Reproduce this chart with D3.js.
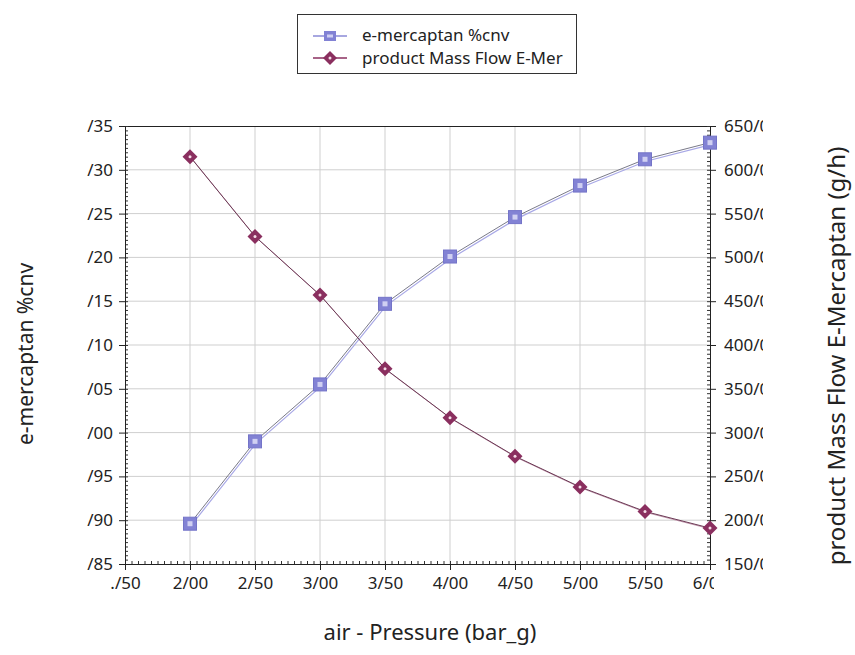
<!DOCTYPE html>
<html>
<head>
<meta charset="utf-8">
<script src="https://cdn.jsdelivr.net/npm/d3@7"></script>
<style>
  body { margin: 0; background: #fff; }
  text { font-family: "Noto Sans", "DejaVu Sans", sans-serif; fill: #222; }
</style>
</head>
<body>
<div id="chart"></div>
<script>
// air pressure (bar_g)
var pressure = [2.0, 2.5, 3.0, 3.5, 4.0, 4.5, 5.0, 5.5, 6.0];
// e-mercaptan %cnv (left axis)
var conversion = [98.896, 98.990, 99.055, 99.147, 99.201, 99.246, 99.282, 99.312, 99.331];
// product mass flow E-Mercaptan g/h (right axis)
var massFlow = [615, 524, 457, 373, 317, 273, 238, 210, 191];

var xTicks = [1.5, 2.0, 2.5, 3.0, 3.5, 4.0, 4.5, 5.0, 5.5, 6.0];
var xTickLabels = ["./50", "2/00", "2/50", "3/00", "3/50", "4/00", "4/50", "5/00", "5/50", "6/00"];
var leftTicks = [98.85, 98.90, 98.95, 99.00, 99.05, 99.10, 99.15, 99.20, 99.25, 99.30, 99.35];
var leftTickLabels = ["/85", "/90", "/95", "/00", "/05", "/10", "/15", "/20", "/25", "/30", "/35"];
var rightTicks = [150, 200, 250, 300, 350, 400, 450, 500, 550, 600, 650];
var rightTickLabels = ["150/0", "200/0", "250/0", "300/0", "350/0", "400/0", "450/0", "500/0", "550/0", "600/0", "650/0"];

var W = 855, H = 655;
var L = 125, R = 710, T = 126, B = 564;

var svg = d3.select("#chart").append("svg")
  .attr("width", W).attr("height", H);

// the source cuts off the right tick labels and the last x label
var defs = svg.append("defs");
defs.append("clipPath").attr("id", "clipR")
  .append("rect").attr("x", 0).attr("y", 0).attr("width", 763).attr("height", H);
defs.append("clipPath").attr("id", "clipB")
  .append("rect").attr("x", 0).attr("y", 0).attr("width", 714).attr("height", H);

var x = d3.scaleLinear().domain([1.5, 6.0]).range([L, R]);
var yL = d3.scaleLinear().domain([98.85, 99.35]).range([B, T]);
var yR = d3.scaleLinear().domain([150, 650]).range([B, T]);

// grid
var grid = svg.append("g");
grid.selectAll("line.v").data(xTicks.slice(1, -1)).enter().append("line")
  .attr("x1", function(d) { return x(d); }).attr("x2", function(d) { return x(d); })
  .attr("y1", T).attr("y2", B)
  .attr("stroke", "#cfcfcf").attr("stroke-width", 1);
grid.selectAll("line.h").data(leftTicks.slice(1, -1)).enter().append("line")
  .attr("x1", L).attr("x2", R)
  .attr("y1", function(d) { return yL(d); }).attr("y2", function(d) { return yL(d); })
  .attr("stroke", "#cfcfcf").attr("stroke-width", 1);

// top border
svg.append("line").attr("x1", L).attr("x2", R).attr("y1", T + 0.5).attr("y2", T + 0.5)
  .attr("stroke", "#222");

// minor ticks
function minor(lo, hi, step) {
  var out = [];
  for (var v = lo; v <= hi + step / 2; v += step) out.push(+v.toFixed(4));
  return out;
}
svg.append("g").attr("transform", "translate(" + L + ",0)")
  .call(d3.axisLeft(yL).tickValues(minor(98.85, 99.35, 0.005)).tickSize(-3).tickFormat(""))
  .call(function(g) { g.select(".domain").remove(); g.selectAll("line").attr("stroke", "#333"); });
svg.append("g").attr("transform", "translate(" + R + ",0)")
  .call(d3.axisRight(yR).tickValues(minor(150, 650, 5)).tickSize(-3).tickFormat(""))
  .call(function(g) { g.select(".domain").remove(); g.selectAll("line").attr("stroke", "#333"); });
svg.append("g").attr("transform", "translate(0," + B + ")")
  .call(d3.axisBottom(x).tickValues(minor(1.5, 6.0, 0.05)).tickSize(-3).tickFormat(""))
  .call(function(g) { g.select(".domain").remove(); g.selectAll("line").attr("stroke", "#333"); });

// major axes
var axL = svg.append("g").attr("transform", "translate(" + L + ",0)")
  .call(d3.axisLeft(yL).tickValues(leftTicks).tickSizeOuter(0).tickSize(6).tickPadding(6)
    .tickFormat(function(d, i) { return leftTickLabels[i]; }));
var axR = svg.append("g").attr("clip-path", "url(#clipR)")
  .append("g").attr("transform", "translate(" + R + ",0)")
  .call(d3.axisRight(yR).tickValues(rightTicks).tickSizeOuter(0).tickSize(6).tickPadding(8)
    .tickFormat(function(d, i) { return rightTickLabels[i]; }));
var axB = svg.append("g").attr("clip-path", "url(#clipB)")
  .append("g").attr("transform", "translate(0," + B + ")")
  .call(d3.axisBottom(x).tickValues(xTicks).tickSizeOuter(0).tickSize(6).tickPadding(7)
    .tickFormat(function(d, i) { return xTickLabels[i]; }));
[axL, axR, axB].forEach(function(a) {
  a.selectAll("text").style("font-size", "17px").attr("fill", "#222");
  a.selectAll("line, path").attr("stroke", "#222");
});

// lines
var lineL = d3.line().x(function(d) { return x(d[0]); }).y(function(d) { return yL(d[1]); });
var lineR = d3.line().x(function(d) { return x(d[0]); }).y(function(d) { return yR(d[1]); });
var convData = pressure.map(function(p, i) { return [p, conversion[i]]; });
var flowData = pressure.map(function(p, i) { return [p, massFlow[i]]; });

svg.append("path").datum(convData).attr("d", lineL)
  .attr("fill", "none").attr("stroke", "#a8a8e6").attr("stroke-width", 1.2)
  .attr("transform", "translate(1,2)");
svg.append("path").datum(convData).attr("d", lineL)
  .attr("fill", "none").attr("stroke", "#6a6a7a").attr("stroke-width", 0.9);

svg.append("path").datum(flowData).attr("d", lineR)
  .attr("fill", "none").attr("stroke", "#c59ab0").attr("stroke-width", 1)
  .attr("transform", "translate(1,1)");
svg.append("path").datum(flowData).attr("d", lineR)
  .attr("fill", "none").attr("stroke", "#6b3a55").attr("stroke-width", 1);

// markers
var sq = svg.append("g").selectAll("g").data(convData).enter().append("g")
  .attr("transform", function(d) { return "translate(" + x(d[0]) + "," + yL(d[1]) + ")"; });
sq.append("rect").attr("x", -6.5).attr("y", -6.5).attr("width", 13).attr("height", 13)
  .attr("fill", "#8282d4").attr("stroke", "#7474c8");
sq.append("rect").attr("x", -2.5).attr("y", -2.5).attr("width", 5).attr("height", 5)
  .attr("fill", "#d0d0f2");

var dm = svg.append("g").selectAll("g").data(flowData).enter().append("g")
  .attr("transform", function(d) { return "translate(" + x(d[0]) + "," + yR(d[1]) + ")"; });
dm.append("path").attr("d", "M0,-7.5L7.5,0L0,7.5L-7.5,0Z").attr("fill", "#8a2f5f");
dm.append("circle").attr("r", 1.5).attr("fill", "#f4dbe6");

// axis titles
svg.append("text").attr("x", 430).attr("y", 640)
  .attr("text-anchor", "middle").style("font-size", "22px")
  .text("air - Pressure (bar_g)");
svg.append("text").attr("transform", "translate(33,354) rotate(-90)")
  .attr("text-anchor", "middle").style("font-size", "21px")
  .text("e-mercaptan %cnv");
svg.append("text").attr("transform", "translate(845,356) rotate(-90)")
  .attr("text-anchor", "middle").style("font-size", "24px")
  .text("product Mass Flow E-Mercaptan (g/h)");

// legend
var lg = svg.append("g");
lg.append("rect").attr("x", 297.5).attr("y", 14.5).attr("width", 279).attr("height", 59)
  .attr("fill", "#fff").attr("stroke", "#333");
var l1 = lg.append("g").attr("transform", "translate(330,36)");
l1.append("line").attr("x1", -17).attr("x2", 17).attr("stroke", "#8a8ad6").attr("stroke-width", 1.5);
l1.append("rect").attr("x", -6).attr("y", -5).attr("width", 12).attr("height", 10).attr("fill", "#8282d4");
l1.append("rect").attr("x", -3).attr("y", -1.5).attr("width", 6).attr("height", 3).attr("fill", "#d0d0f2");
lg.append("text").attr("x", 362).attr("y", 41).style("font-size", "17px").text("e-mercaptan %cnv");
var l2 = lg.append("g").attr("transform", "translate(330,58)");
l2.append("line").attr("x1", -17).attr("x2", 17).attr("stroke", "#8a2f5f").attr("stroke-width", 1.5);
l2.append("path").attr("d", "M0,-7L7,0L0,7L-7,0Z").attr("fill", "#8a2f5f");
l2.append("circle").attr("r", 1.5).attr("fill", "#f4dbe6");
lg.append("text").attr("x", 362).attr("y", 64).style("font-size", "17px").text("product Mass Flow E-Mer");
</script>
</body>
</html>
